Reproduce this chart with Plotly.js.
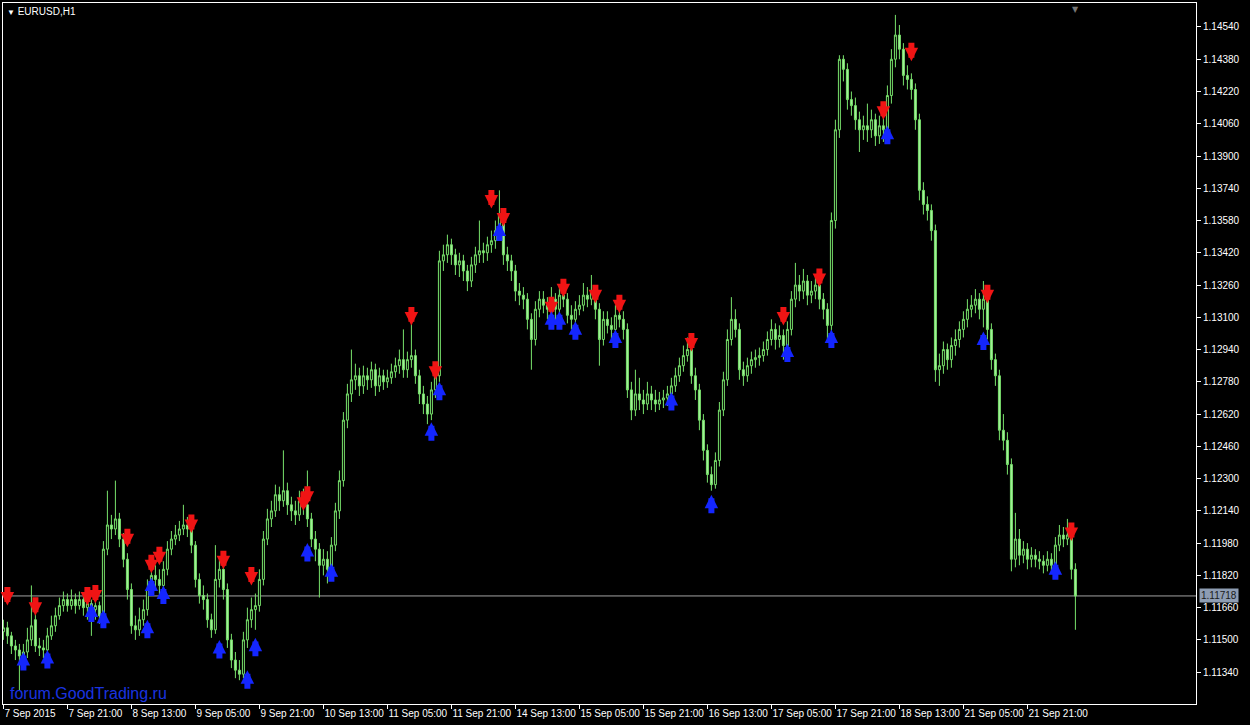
<!DOCTYPE html>
<html>
<head>
<meta charset="utf-8">
<script src="https://cdn.plot.ly/plotly-3.0.1.min.js"></script>
<style>html,body{margin:0;padding:0;background:#000;}#chart{width:1250px;height:725px;}</style>
</head>
<body>
<div id="chart"></div>
<script>
// EURUSD H1 bars (open, high, low, close), 7 Sep 2015 05:00 onwards
const openP = [
1.1154,1.1156,1.1152,1.1147,1.1145,1.1142,1.1144,1.1150,1.1160,1.1147,
1.1146,1.1145,1.1152,1.1157,1.1162,1.1167,1.1170,1.1167,1.1170,1.1167,
1.1170,1.1166,1.1168,1.1165,1.1167,1.1162,1.1195,1.1207,1.1205,1.1210,
1.1200,1.1190,1.1175,1.1157,1.1155,1.1160,1.1165,1.1175,1.1182,1.1180,
1.1177,1.1185,1.1195,1.1200,1.1202,1.1205,1.1207,1.1205,1.1197,1.1180,
1.1172,1.1170,1.1160,1.1155,1.1180,1.1185,1.1175,1.1150,1.1140,1.1135,
1.1133,1.1150,1.1160,1.1165,1.1167,1.1180,1.1200,1.1210,1.1214,1.1222,
1.1219,1.1224,1.1217,1.1214,1.1212,1.1219,1.1217,1.1210,1.1200,1.1195,
1.1187,1.1190,1.1185,1.1197,1.1214,1.1229,1.1259,1.1272,1.1279,1.1281,
1.1276,1.1281,1.1279,1.1284,1.1276,1.1281,1.1278,1.1280,1.1283,1.1286,
1.1289,1.1284,1.1289,1.1291,1.1281,1.1272,1.1267,1.1262,1.1274,1.1281,
1.1338,1.1341,1.1346,1.1341,1.1336,1.1338,1.1333,1.1328,1.1336,1.1341,
1.1343,1.1342,1.1346,1.1348,1.1353,1.1361,1.1341,1.1338,1.1333,1.1323,
1.1321,1.1319,1.1309,1.1299,1.1314,1.1319,1.1316,1.1314,1.1319,1.1314,
1.1321,1.1319,1.1311,1.1309,1.1314,1.1316,1.1321,1.1319,1.1323,1.1314,
1.1299,1.1309,1.1306,1.1304,1.1311,1.1309,1.1304,1.1274,1.1264,1.1272,
1.1269,1.1267,1.1272,1.1269,1.1267,1.1269,1.1270,1.1272,1.1276,1.1281,
1.1286,1.1291,1.1294,1.1281,1.1274,1.1259,1.1244,1.1232,1.1227,1.1239,
1.1264,1.1279,1.1299,1.1309,1.1304,1.1284,1.1281,1.1286,1.1289,1.1290,
1.1291,1.1294,1.1299,1.1304,1.1299,1.1301,1.1296,1.1304,1.1319,1.1326,
1.1323,1.1328,1.1321,1.1323,1.1326,1.1319,1.1314,1.1306,1.1358,1.1403,
1.1438,1.1433,1.1418,1.1415,1.1408,1.1403,1.1405,1.1403,1.1408,1.1400,
1.1405,1.1403,1.1420,1.1438,1.1450,1.1443,1.1430,1.1428,1.1423,1.1408,
1.1373,1.1366,1.1363,1.1353,1.1284,1.1286,1.1294,1.1289,1.1296,1.1299,
1.1304,1.1309,1.1314,1.1316,1.1319,1.1314,1.1319,1.1304,1.1289,1.1281,
1.1254,1.1249,1.1237,1.1190,1.1200,1.1192,1.1195,1.1190,1.1192,1.1190,
1.1189,1.1187,1.1190,1.1187,1.1197,1.1202,1.1200,1.1202,1.1185
];
const highP = [
1.1160,1.1159,1.1154,1.1150,1.1148,1.1148,1.1156,1.1177,1.1163,1.1151,
1.1150,1.1156,1.1162,1.1166,1.1171,1.1174,1.1173,1.1175,1.1173,1.1174,
1.1172,1.1171,1.1170,1.1170,1.1169,1.1199,1.1224,1.1212,1.1229,1.1213,
1.1203,1.1193,1.1178,1.1162,1.1166,1.1170,1.1180,1.1190,1.1187,1.1185,
1.1189,1.1199,1.1204,1.1207,1.1209,1.1217,1.1211,1.1208,1.1199,1.1183,
1.1177,1.1173,1.1163,1.1197,1.1190,1.1188,1.1178,1.1153,1.1144,1.1140,
1.1154,1.1166,1.1171,1.1173,1.1185,1.1204,1.1215,1.1219,1.1227,1.1226,
1.1244,1.1228,1.1221,1.1219,1.1224,1.1225,1.1234,1.1213,1.1204,1.1198,
1.1195,1.1194,1.1201,1.1218,1.1234,1.1263,1.1277,1.1294,1.1287,1.1285,
1.1286,1.1285,1.1288,1.1287,1.1285,1.1284,1.1284,1.1287,1.1290,1.1294,
1.1304,1.1293,1.1309,1.1294,1.1284,1.1276,1.1271,1.1278,1.1286,1.1343,
1.1346,1.1351,1.1349,1.1344,1.1342,1.1341,1.1336,1.1340,1.1345,1.1358,
1.1347,1.1350,1.1353,1.1358,1.1373,1.1364,1.1345,1.1341,1.1336,1.1327,
1.1325,1.1322,1.1312,1.1318,1.1323,1.1323,1.1320,1.1325,1.1322,1.1326,
1.1329,1.1322,1.1316,1.1318,1.1321,1.1327,1.1325,1.1331,1.1326,1.1317,
1.1313,1.1313,1.1310,1.1316,1.1317,1.1313,1.1307,1.1278,1.1284,1.1280,
1.1274,1.1278,1.1276,1.1274,1.1273,1.1274,1.1276,1.1280,1.1285,1.1290,
1.1296,1.1300,1.1297,1.1285,1.1277,1.1262,1.1247,1.1236,1.1243,1.1268,
1.1283,1.1304,1.1320,1.1314,1.1307,1.1288,1.1290,1.1293,1.1294,1.1295,
1.1298,1.1303,1.1309,1.1307,1.1306,1.1304,1.1308,1.1323,1.1337,1.1331,
1.1334,1.1331,1.1328,1.1331,1.1329,1.1322,1.1317,1.1362,1.1408,1.1440,
1.1440,1.1436,1.1422,1.1419,1.1412,1.1410,1.1416,1.1413,1.1411,1.1410,
1.1409,1.1425,1.1443,1.1460,1.1455,1.1446,1.1435,1.1431,1.1426,1.1411,
1.1377,1.1370,1.1366,1.1356,1.1292,1.1298,1.1297,1.1300,1.1304,1.1308,
1.1313,1.1319,1.1321,1.1324,1.1322,1.1328,1.1322,1.1307,1.1292,1.1284,
1.1262,1.1253,1.1240,1.1213,1.1205,1.1199,1.1198,1.1196,1.1195,1.1194,
1.1192,1.1194,1.1193,1.1201,1.1207,1.1206,1.1210,1.1205,1.1188
];
const lowP = [
1.1150,1.1148,1.1143,1.1140,1.1125,1.1138,1.1141,1.1147,1.1144,1.1142,
1.1141,1.1143,1.1150,1.1154,1.1160,1.1164,1.1164,1.1165,1.1163,1.1165,
1.1162,1.1160,1.1152,1.1160,1.1158,1.1160,1.1192,1.1200,1.1202,1.1196,
1.1186,1.1170,1.1153,1.1150,1.1152,1.1157,1.1162,1.1172,1.1176,1.1172,
1.1174,1.1182,1.1192,1.1197,1.1199,1.1202,1.1201,1.1193,1.1176,1.1168,
1.1165,1.1156,1.1151,1.1153,1.1176,1.1170,1.1146,1.1136,1.1131,1.1130,
1.1131,1.1146,1.1156,1.1155,1.1164,1.1177,1.1197,1.1206,1.1211,1.1214,
1.1216,1.1212,1.1209,1.1207,1.1209,1.1212,1.1206,1.1196,1.1189,1.1171,
1.1182,1.1178,1.1182,1.1194,1.1210,1.1226,1.1255,1.1268,1.1274,1.1271,
1.1272,1.1274,1.1275,1.1271,1.1273,1.1274,1.1275,1.1277,1.1280,1.1282,
1.1280,1.1280,1.1285,1.1277,1.1267,1.1262,1.1257,1.1259,1.1270,1.1278,
1.1333,1.1337,1.1336,1.1331,1.1330,1.1328,1.1323,1.1325,1.1332,1.1337,
1.1337,1.1338,1.1342,1.1344,1.1348,1.1336,1.1333,1.1328,1.1318,1.1316,
1.1314,1.1304,1.1284,1.1296,1.1310,1.1312,1.1309,1.1310,1.1308,1.1311,
1.1315,1.1307,1.1304,1.1305,1.1311,1.1313,1.1315,1.1316,1.1309,1.1286,
1.1296,1.1302,1.1299,1.1301,1.1305,1.1299,1.1270,1.1259,1.1261,1.1264,
1.1262,1.1264,1.1264,1.1263,1.1264,1.1265,1.1266,1.1268,1.1273,1.1278,
1.1283,1.1288,1.1277,1.1269,1.1254,1.1239,1.1228,1.1224,1.1225,1.1236,
1.1261,1.1276,1.1296,1.1300,1.1279,1.1276,1.1278,1.1282,1.1285,1.1286,
1.1288,1.1291,1.1296,1.1294,1.1295,1.1289,1.1292,1.1301,1.1315,1.1318,
1.1319,1.1316,1.1317,1.1319,1.1314,1.1309,1.1299,1.1302,1.1354,1.1399,
1.1427,1.1413,1.1410,1.1403,1.1392,1.1398,1.1397,1.1399,1.1395,1.1396,
1.1397,1.1400,1.1416,1.1434,1.1438,1.1425,1.1423,1.1418,1.1403,1.1368,
1.1361,1.1358,1.1348,1.1278,1.1276,1.1282,1.1284,1.1285,1.1291,1.1295,
1.1300,1.1305,1.1310,1.1312,1.1309,1.1305,1.1299,1.1284,1.1276,1.1249,
1.1244,1.1232,1.1184,1.1186,1.1187,1.1188,1.1185,1.1186,1.1186,1.1185,
1.1183,1.1184,1.1183,1.1184,1.1194,1.1196,1.1197,1.1180,1.1155
];
const closeP = [
1.1156,1.1152,1.1147,1.1145,1.1142,1.1144,1.1150,1.1157,1.1147,1.1146,
1.1145,1.1152,1.1157,1.1162,1.1167,1.1170,1.1167,1.1170,1.1167,1.1170,
1.1166,1.1168,1.1165,1.1167,1.1162,1.1195,1.1207,1.1205,1.1210,1.1200,
1.1190,1.1175,1.1157,1.1155,1.1160,1.1165,1.1175,1.1182,1.1180,1.1177,
1.1185,1.1195,1.1200,1.1202,1.1205,1.1207,1.1205,1.1197,1.1180,1.1172,
1.1170,1.1160,1.1155,1.1180,1.1185,1.1175,1.1150,1.1140,1.1135,1.1133,
1.1150,1.1160,1.1165,1.1167,1.1180,1.1200,1.1210,1.1214,1.1222,1.1219,
1.1224,1.1217,1.1214,1.1212,1.1219,1.1217,1.1210,1.1200,1.1195,1.1187,
1.1190,1.1185,1.1197,1.1214,1.1229,1.1259,1.1272,1.1279,1.1281,1.1276,
1.1281,1.1279,1.1284,1.1276,1.1281,1.1278,1.1280,1.1283,1.1286,1.1289,
1.1284,1.1289,1.1291,1.1281,1.1272,1.1267,1.1262,1.1274,1.1281,1.1338,
1.1341,1.1346,1.1341,1.1336,1.1338,1.1333,1.1328,1.1336,1.1341,1.1343,
1.1342,1.1346,1.1348,1.1353,1.1361,1.1341,1.1338,1.1333,1.1323,1.1321,
1.1319,1.1309,1.1299,1.1314,1.1319,1.1316,1.1314,1.1319,1.1314,1.1321,
1.1319,1.1311,1.1309,1.1314,1.1316,1.1321,1.1319,1.1323,1.1314,1.1299,
1.1309,1.1306,1.1304,1.1311,1.1309,1.1304,1.1274,1.1264,1.1272,1.1269,
1.1267,1.1272,1.1269,1.1267,1.1269,1.1270,1.1272,1.1276,1.1281,1.1286,
1.1291,1.1294,1.1281,1.1274,1.1259,1.1244,1.1232,1.1227,1.1239,1.1264,
1.1279,1.1299,1.1309,1.1304,1.1284,1.1281,1.1286,1.1289,1.1290,1.1291,
1.1294,1.1299,1.1304,1.1299,1.1301,1.1296,1.1304,1.1319,1.1326,1.1323,
1.1328,1.1321,1.1323,1.1326,1.1319,1.1314,1.1306,1.1358,1.1403,1.1438,
1.1433,1.1418,1.1415,1.1408,1.1403,1.1405,1.1403,1.1408,1.1400,1.1405,
1.1403,1.1420,1.1438,1.1450,1.1443,1.1430,1.1428,1.1423,1.1408,1.1373,
1.1366,1.1363,1.1353,1.1284,1.1286,1.1294,1.1289,1.1296,1.1299,1.1304,
1.1309,1.1314,1.1316,1.1319,1.1314,1.1319,1.1304,1.1289,1.1281,1.1254,
1.1249,1.1237,1.1190,1.1200,1.1192,1.1195,1.1190,1.1192,1.1190,1.1189,
1.1187,1.1190,1.1187,1.1197,1.1202,1.1200,1.1202,1.1185,1.11718
];

// Signal arrows (bar index, price at arrow tip)
const sellIdx   = [1,8,21,23,31,37,39,47,55,62,75,76,102,108,122,125,137,140,148,154,172,195,204,220,227,246,267];
const sellPrice = [1.1167,1.1162,1.1167,1.1168,1.1196,1.1183,1.1187,1.1203,1.1185,1.1177,1.1214,1.1217,1.1306,1.1279,1.1364,1.1355,1.1311,1.1320,1.1317,1.1312,1.1293,1.1306,1.1325,1.1408,1.1437,1.1317,1.1199];
const buyIdx    = [5,11,22,25,36,37,40,54,61,63,76,82,107,109,124,137,139,143,153,167,177,196,207,221,245,263];
const buyPrice  = [1.1144,1.1145,1.1168,1.1165,1.1160,1.1181,1.1177,1.1150,1.1135,1.1151,1.1198,1.1188,1.1258,1.1278,1.1357,1.1313,1.1313,1.1308,1.1304,1.1273,1.1222,1.1297,1.1304,1.1405,1.1303,1.1189];

// Axis ticks
const xTickIdx = [0,16,32,48,64,80,96,112,128,144,160,176,192,208,224,240,256];
const xTickText = ["7 Sep 2015","7 Sep 21:00","8 Sep 13:00","9 Sep 05:00","9 Sep 21:00","10 Sep 13:00","11 Sep 05:00","11 Sep 21:00","14 Sep 13:00","15 Sep 05:00","15 Sep 21:00","16 Sep 13:00","17 Sep 05:00","17 Sep 21:00","18 Sep 13:00","21 Sep 05:00","21 Sep 21:00"];
const yTickVals = [1.14540,1.14380,1.14220,1.14060,1.13900,1.13740,1.13580,1.13420,1.13260,1.13100,1.12940,1.12780,1.12620,1.12460,1.12300,1.12140,1.11980,1.11820,1.11660,1.11500,1.11340];
const yTickText = ["1.14540","1.14380","1.14220","1.14060","1.13900","1.13740","1.13580","1.13420","1.13260","1.13100","1.12940","1.12780","1.12620","1.12460","1.12300","1.12140","1.11980","1.11820","1.11660","1.11500","1.11340"];
const symbolTitle = "EURUSD,H1";
const watermark = "forum.GoodTrading.ru";

const xIdx = closeP.map((_, i) => i);
const lastPrice = closeP[closeP.length - 1];
const candleGreen = '#78e26c';

const candle = {
  type: 'candlestick',
  x: xIdx, open: openP, high: highP, low: lowP, close: closeP,
  increasing: {line: {color: candleGreen, width: 1}, fillcolor: '#000000'},
  decreasing: {line: {color: candleGreen, width: 1}, fillcolor: '#a8eea0'},
  whiskerwidth: 0,
  hoverinfo: 'skip',
  showlegend: false
};

const annotations = [];
sellIdx.forEach((ix, k) => annotations.push({
  x: ix, y: sellPrice[k], xref: 'x', yref: 'y', text: '', showarrow: true,
  ax: 0, ay: -20, arrowcolor: '#f01414', arrowwidth: 6, arrowhead: 2, arrowsize: 0.45, standoff: 0
}));
buyIdx.forEach((ix, k) => annotations.push({
  x: ix, y: buyPrice[k], xref: 'x', yref: 'y', text: '', showarrow: true,
  ax: 0, ay: 20, arrowcolor: '#1426ff', arrowwidth: 6, arrowhead: 2, arrowsize: 0.45, standoff: 0
}));
annotations.push({
  xref: 'paper', yref: 'paper', x: 0.002, y: 0.999, xanchor: 'left', yanchor: 'top', showarrow: false,
  text: '<span style="font-size:8px">▼</span> ' + symbolTitle,
  font: {family: 'Liberation Sans, Arial', size: 10, color: '#ffffff'}
});
annotations.push({
  xref: 'paper', yref: 'paper', x: 0.004, y: 0.0, xanchor: 'left', yanchor: 'bottom', showarrow: false,
  text: watermark, font: {family: 'Liberation Sans, Arial', size: 16, color: '#1a34e0'}
});
annotations.push({
  xref: 'paper', yref: 'y', x: 1.0, y: lastPrice, xanchor: 'left', yanchor: 'middle', xshift: 3, showarrow: false,
  text: lastPrice.toFixed(5), bgcolor: '#8e9db3', borderpad: 1,
  font: {family: 'Liberation Sans, Arial', size: 10, color: '#1a1a1a'}
});
annotations.push({
  xref: 'paper', yref: 'paper', x: 0.8994, y: 1.0, xanchor: 'center', yanchor: 'top', showarrow: false,
  text: '▼', font: {family: 'DejaVu Sans', size: 8, color: '#777777'}
});

const layout = {
  width: 1250, height: 725,
  paper_bgcolor: '#000000', plot_bgcolor: '#000000',
  margin: {l: 3, r: 54, t: 3, b: 21},
  font: {family: 'Liberation Sans, Arial', size: 10, color: '#ffffff'},
  showlegend: false,
  dragmode: false,
  xaxis: {
    type: 'linear', range: [-0.1, 298.15],
    rangeslider: {visible: false},
    showgrid: false, zeroline: false,
    showline: true, linecolor: '#ffffff', linewidth: 1, mirror: true,
    tickmode: 'array', tickvals: xTickIdx, ticktext: xTickText,
    ticks: 'outside', ticklen: 4, tickcolor: '#ffffff', tickwidth: 1,
    tickangle: 0,
    ticklabelposition: 'outside right',
    tickfont: {family: 'Liberation Sans, Arial', size: 10, color: '#ffffff'}
  },
  yaxis: {
    side: 'right', range: [1.11182, 1.14659],
    showgrid: false, zeroline: false,
    showline: true, linecolor: '#ffffff', linewidth: 1, mirror: true,
    tickmode: 'array', tickvals: yTickVals, ticktext: yTickText,
    ticks: 'outside', ticklen: 4, tickcolor: '#ffffff', tickwidth: 1,
    tickfont: {family: 'Liberation Sans, Arial', size: 10, color: '#ffffff'}
  },
  shapes: [{
    type: 'line', xref: 'paper', yref: 'y', x0: 0, x1: 1, y0: lastPrice, y1: lastPrice,
    line: {color: '#a3a3a3', width: 1}, layer: 'below'
  }],
  annotations: annotations
};

Plotly.newPlot('chart', [candle], layout, {displayModeBar: false, staticPlot: true});
</script>
</body>
</html>
